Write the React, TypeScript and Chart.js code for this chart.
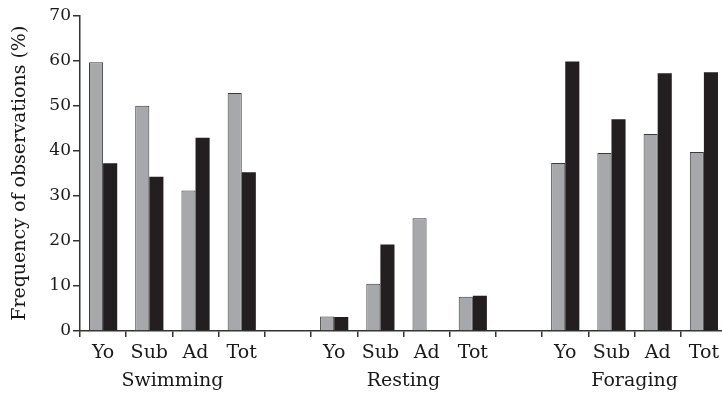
import React, { useEffect, useRef } from "react";
import { Chart, registerables } from "chart.js";

Chart.register(...registerables);

// ---- Data ----
const groupNames = ["Swimming", "Resting", "Foraging"];
const subCategories = ["Yo", "Sub", "Ad", "Tot"];
// grey bars (first series)
const swimmingGrey = [59.6, 50.0, 31.2, 52.8];
const restingGrey = [3.2, 10.5, 25.0, 7.6];
const foragingGrey = [37.3, 39.5, 43.7, 39.7];
// black bars (second series)
const swimmingBlack = [37.2, 34.2, 42.9, 35.2];
const restingBlack = [3.1, 19.2, null, 7.8];
const foragingBlack = [59.8, 47.0, 57.2, 57.4];
const yTicks = [0, 10, 20, 30, 40, 50, 60, 70];
const yTitle = "Frequency of observations (%)";

const greyByGroup = [swimmingGrey, restingGrey, foragingGrey];
const blackByGroup = [swimmingBlack, restingBlack, foragingBlack];

// flatten with one empty slot between groups
const labels: string[] = [];
const greyData: (number | null)[] = [];
const blackData: (number | null)[] = [];
const groupCenters: number[] = [];
groupNames.forEach((g, gi) => {
  if (gi > 0) {
    labels.push("");
    greyData.push(null);
    blackData.push(null);
  }
  const start = labels.length;
  subCategories.forEach((c, ci) => {
    labels.push(c);
    greyData.push(greyByGroup[gi][ci]);
    blackData.push(blackByGroup[gi][ci]);
  });
  groupCenters.push(start + subCategories.length / 2);
});
// group-label axis: one label per slot boundary (no offset)
const groupAxisLabels: string[] = [];
for (let i = 0; i <= labels.length; i++) {
  const gi = groupCenters.indexOf(i);
  groupAxisLabels.push(gi >= 0 ? groupNames[gi] : "");
}

const FONT = "'DejaVu Serif', serif";
const TEXT = "#1a1819";

export default function App() {
  const ref = useRef<HTMLCanvasElement | null>(null);
  useEffect(() => {
    document.body.style.margin = "0";
    document.body.style.overflow = "hidden";
    if (!ref.current) return;
    const chart = new Chart(ref.current, {
      type: "bar",
      data: {
        labels,
        datasets: [
          {
            label: "grey",
            data: greyData,
            backgroundColor: "#a7a8ab",
            borderColor: "#3a3a3a",
            borderWidth: 1,
            categoryPercentage: 0.61,
            barPercentage: 1.0,
          },
          {
            label: "black",
            data: blackData,
            backgroundColor: "#231f20",
            borderWidth: 0,
            categoryPercentage: 0.61,
            barPercentage: 1.0,
          },
        ],
      },
      options: {
        responsive: false,
        animation: false,
        devicePixelRatio: 1,
        layout: { padding: { top: 7.5, right: 11, bottom: 0, left: 0 } },
        plugins: { legend: { display: false }, tooltip: { enabled: false } },
        scales: {
          x: {
            type: "category",
            position: "bottom",
            weight: 0,
            offset: true,
            grid: {
              offset: true,
              drawOnChartArea: false,
              drawTicks: true,
              tickLength: 6,
              color: "#333",
              lineWidth: 1.5,
            },
            border: { display: true, color: "#333", width: 1.5 },
            ticks: {
              color: TEXT,
              font: { family: FONT, size: 19 },
              padding: 5,
              maxRotation: 0,
              autoSkip: false,
            },
            afterFit: (s: any) => {
              s.height = 31;
              s.paddingLeft = 0;
              s.paddingRight = 0;
            },
          },
          x2: {
            type: "category",
            labels: groupAxisLabels,
            position: "bottom",
            weight: 1,
            offset: false,
            grid: { display: false, drawTicks: false },
            border: { display: false },
            ticks: {
              color: TEXT,
              font: { family: FONT, size: 19 },
              padding: 8,
              maxRotation: 0,
              autoSkip: false,
            },
            afterFit: (s: any) => {
              s.height = 31;
              s.paddingLeft = 0;
              s.paddingRight = 0;
            },
          },
          y: {
            min: 0,
            max: 70,
            afterBuildTicks: (s: any) => {
              s.ticks = yTicks.map((v) => ({ value: v }));
            },
            grid: {
              drawOnChartArea: false,
              drawTicks: true,
              tickLength: 7,
              color: "#333",
              lineWidth: 1.5,
            },
            border: { display: true, color: "#333", width: 1.5 },
            ticks: {
              color: TEXT,
              font: { family: FONT, size: 17 },
              padding: 2,
            },
            title: {
              display: true,
              text: yTitle,
              color: TEXT,
              font: { family: FONT, size: 19, weight: "normal" },
              padding: { top: 1, bottom: 0 },
            },
            afterFit: (s: any) => {
              s.width = 72;
              s.paddingTop = 0;
              s.paddingBottom = 0;
            },
          },
        },
      },
    });
    return () => chart.destroy();
  }, []);
  return (
    <div
      style={{
        width: 722,
        height: 393,
        overflow: "hidden",
        paddingLeft: 8,
        paddingTop: 8,
        boxSizing: "border-box",
      }}
    >
      <canvas ref={ref} width={730} height={385} style={{ width: 730, height: 385, display: "block" }} />
    </div>
  );
}
